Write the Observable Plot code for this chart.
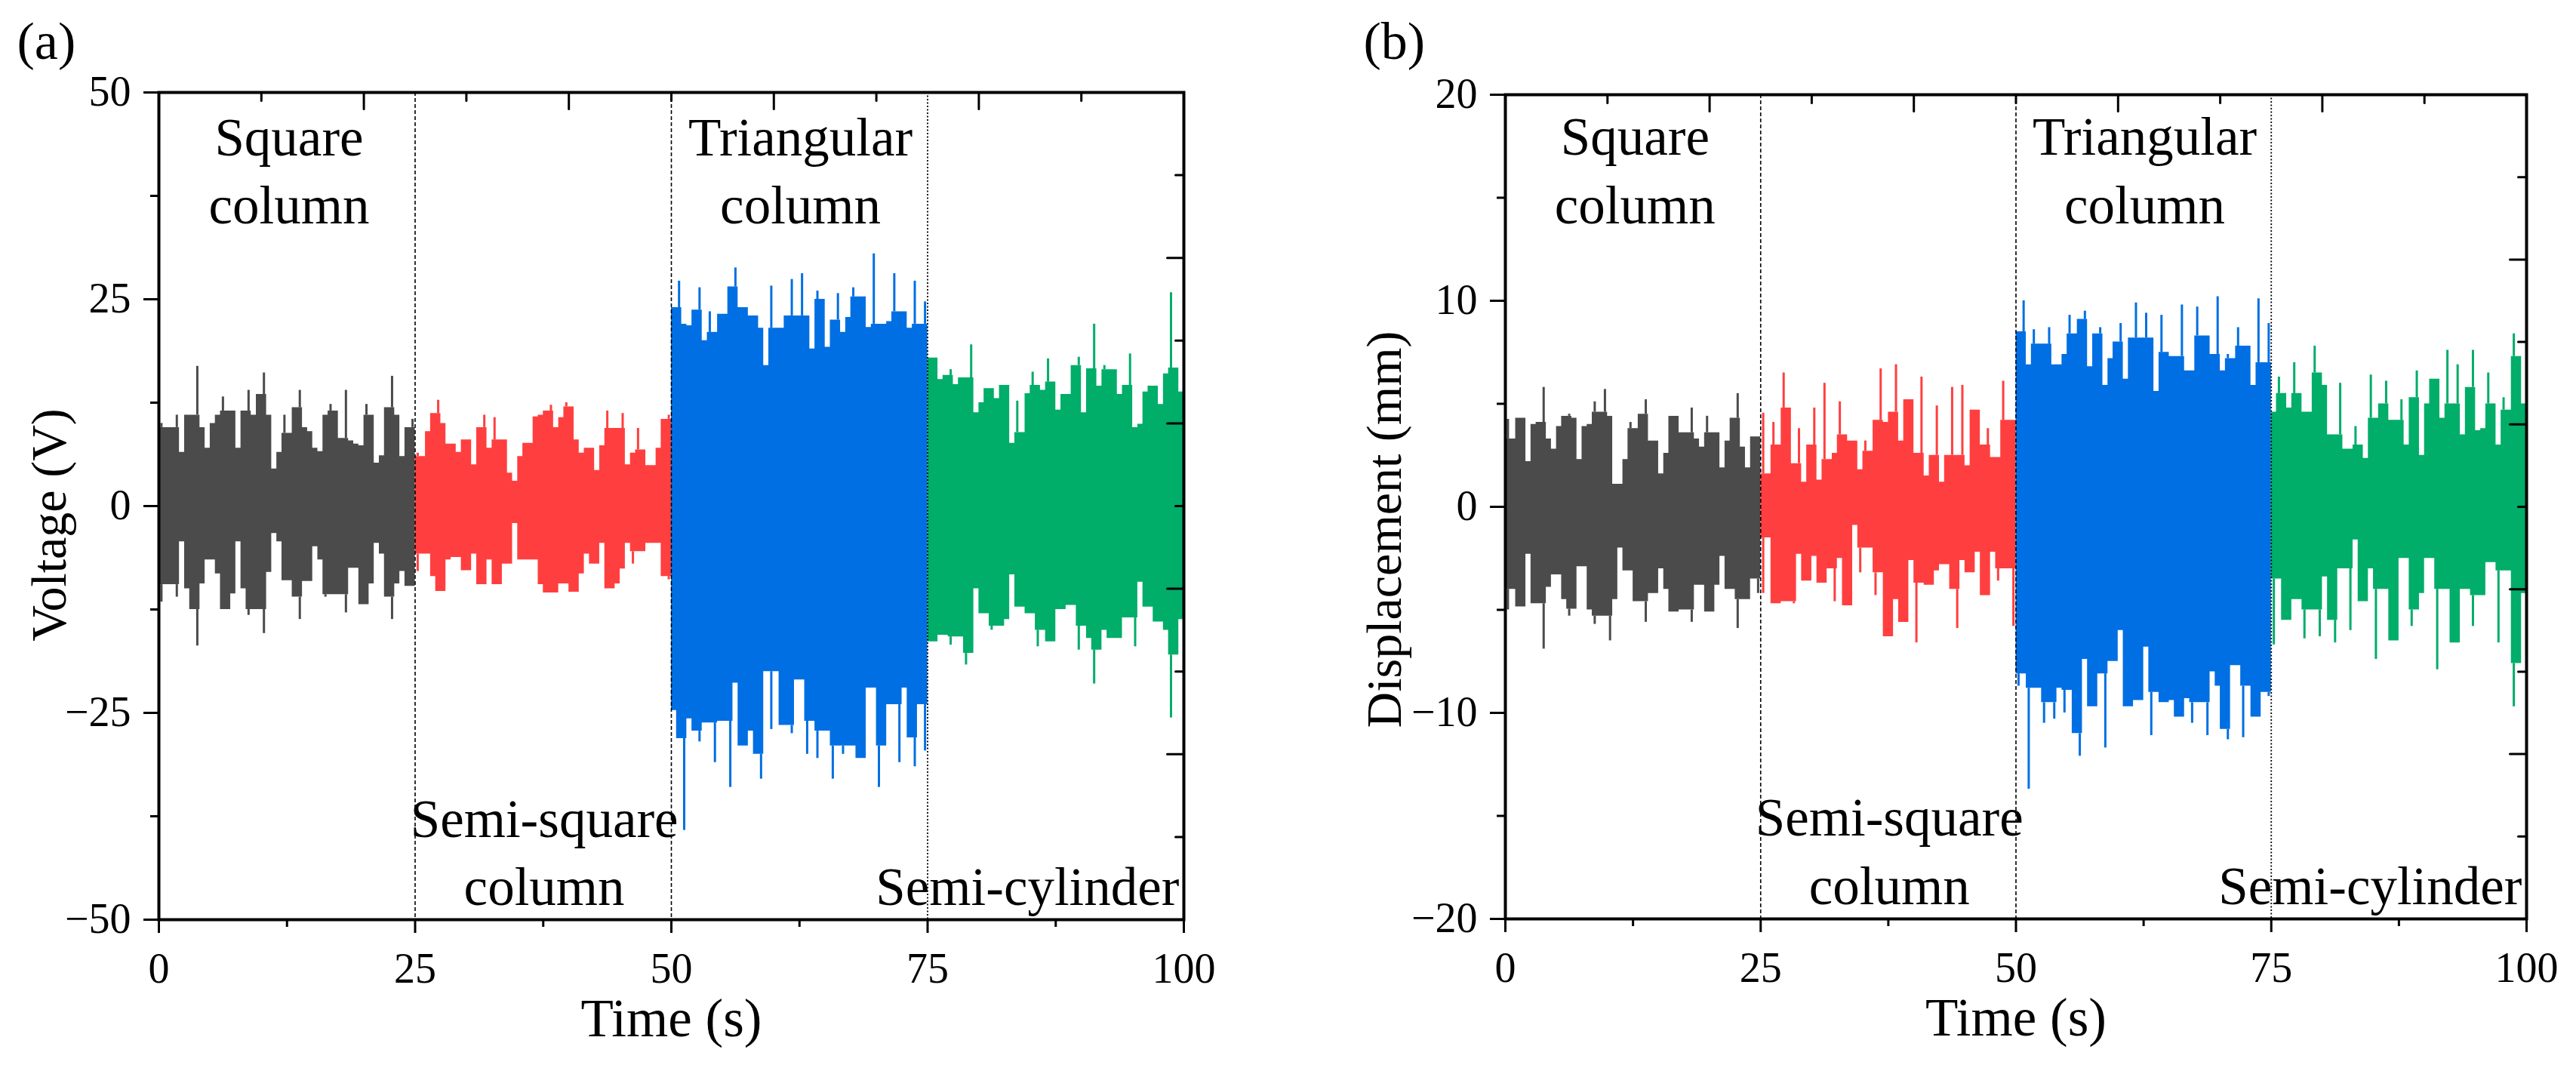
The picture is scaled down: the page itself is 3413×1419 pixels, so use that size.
<!DOCTYPE html>
<html><head><meta charset="utf-8">
<script src="https://cdn.jsdelivr.net/npm/d3@7"></script>
<script src="https://cdn.jsdelivr.net/npm/@observablehq/plot@0.6"></script>
<style>
html,body{margin:0;padding:0;background:#fff;}
#fig{display:flex;width:3413px;height:1419px;background:#fff;}
#pa{width:1706px;height:1419px;}
#pb{width:1707px;height:1419px;}
</style></head><body><div id="fig"><div id="pa"></div><div id="pb"></div></div>
<script>
// ---- Data: signal envelopes, one value per 0.5 s ----
const segmentNames = ["Square column", "Semi-square column", "Triangular column", "Semi-cylinder"];
const segmentStarts = [0, 25, 50, 75];
const segmentColors = ["#4b4b4b", "#ff3f3f", "#006fe3", "#00ad69"];
const sampleStep = 0.5;

// (a) Voltage (V)
const voltSquareHi = [10.0,9.5,9.5,11,6.5,11,11,16.9,9.5,7,10,11,13.2,11.5,11.5,7,11.5,14,11,13.5,16.1,11,4.5,6.5,11,8.8,11.9,14,9.5,9,7,6.6,11,12.3,11.5,8.2,14,7.9,7.5,7.3,12.3,11,5.2,6.1,11.9,15.7,11,6,9.5,10.5];
const voltSquareLo = [-11.6,-9.5,-9.5,-11,-4.3,-10,-12.5,-16.9,-9.4,-6.5,-6.5,-8.2,-12.5,-12.5,-10.6,-4.3,-10,-13.2,-12.5,-12.5,-15.4,-8,-3.3,-4.3,-9,-9,-11,-13.7,-9.1,-9.1,-4.9,-6.5,-11,-10.7,-10.7,-10.7,-12.9,-7.5,-7.5,-11.9,-11.9,-9.4,-4.5,-5.8,-11,-13.7,-9.4,-7.9,-9.7,-9.7];
const voltSemiSquareHi = [6.4,6,9,11.2,12.8,10,7.5,7.5,6.5,8,8,5.0,9.5,11,7,10.7,8,8,4,3,6,7.6,7.6,10.8,11,11.5,12.2,9.5,10.7,12.5,12,8,6.4,7,7,4.3,7.3,11.5,9.4,9.4,11.2,5,6.4,9.4,6.8,4.9,4.9,7,10.5,11];
const voltSemiSquareLo = [-7.9,-5.8,-5.8,-8.5,-10.3,-10.3,-6.5,-6.2,-6.2,-7.8,-7.8,-5.8,-9.5,-9.5,-6.5,-9.5,-9.5,-7,-7,-2.1,-6.5,-6.5,-6.5,-6.5,-9.5,-10.5,-10.5,-10.5,-9.4,-9.4,-10.4,-10.4,-8.2,-5.8,-7,-7,-4.5,-10,-10,-9.4,-7.6,-4.5,-7,-5.5,-5.5,-4.5,-4.5,-4.5,-8.5,-8.9];
const voltTriangularHi = [24,27.2,22,21.8,23.7,26.4,20,23.5,21,23.2,23.2,26.5,28.8,24,24,23,23,21.5,17,26.6,21.5,21.5,23,27.4,23,28.1,23,19,26,25,19.2,22.5,25.7,21,22.8,26.4,25.3,25.3,21.6,30.5,22,22,22.3,28.1,23.5,23.5,21.5,27.2,22,24.7];
const voltTriangularLo = [-24.7,-28.1,-39.2,-25.7,-27.2,-28.5,-26.2,-26.2,-31,-26,-26,-34,-21.4,-29,-29,-27.2,-30,-33,-20,-27,-20,-26.5,-26.5,-27.5,-21,-21,-30,-26,-30.5,-27.2,-27.2,-33,-29,-30,-29,-29,-30.5,-30.5,-22,-22,-34,-29,-24,-24,-31,-22,-28,-31.5,-24,-29.6];
const voltCylinderHi = [17.9,17.9,15.3,15.8,16.5,14.7,15.5,15.5,19.5,11.3,12.5,14.2,14.2,13,14.6,14.6,7.6,12.7,8.9,13.6,16.2,14.6,14,17.8,15,11.6,13.5,13.5,17,18,11.3,16.6,22,14.5,17,16.5,16.5,13.5,14.6,18.4,9.5,9.9,13.8,14.5,14.5,12.3,16,25.8,16.7,13.8];
const voltCylinderLo = [-16.4,-16.4,-15.6,-15.6,-16.8,-15.8,-15.8,-19.2,-17.8,-10,-13,-13,-15,-14.5,-14.5,-13.7,-8.3,-12.2,-12.2,-13,-13,-17,-15,-16.4,-16.4,-12.5,-12.5,-12,-12,-17.4,-14.5,-16,-21.5,-17.4,-15,-16,-16,-16,-13.5,-13.5,-17,-9.2,-12.2,-12.2,-14,-14,-15,-25.6,-18,-13.7];

// (b) Displacement (mm)
const dispSquareHi = [4.25,3.3,4.3,4.3,2.2,4.0,4.1,5.8,3.3,2.8,3.9,4.4,4.5,4.3,2.3,3.9,4,5.1,4.6,5.7,4.4,1.1,1.1,2.3,4.1,3.8,4.5,5.2,3.2,3.2,1.6,2.6,4.4,4.4,3.6,3.6,4.8,3.3,2.9,4.4,3.6,3.6,1.9,3.2,4.3,5.5,2.9,1.9,3.4,3.4];
const dispSquareLo = [-5.0,-4,-4.85,-4.85,-2.3,-4.7,-4.7,-6.9,-3.9,-3.3,-3.3,-4.5,-5.3,-4.96,-2.9,-2.9,-5,-5.7,-5.3,-5.3,-6.5,-4.5,-2,-3.1,-3.1,-4.6,-4.6,-5.6,-4.2,-4.2,-3,-4,-5.1,-5.1,-5,-5,-5.6,-3.8,-3.8,-5.1,-5.1,-3.8,-2.4,-4,-4,-5.9,-4.5,-4.5,-3.5,-4.2];
const dispSemiSquareHi = [4.55,1.6,4.1,3.0,6.5,4.8,2.1,3.8,1.2,3,4.8,1.3,6.0,2.3,2.6,5.1,3.5,3.2,3.2,1.8,3.2,2.7,4.2,6.7,4.1,4.6,6.9,3.2,5.2,5.2,2.6,6.3,1.5,2.5,4.9,1.2,2.5,5.8,2.5,5.9,2,4.7,4.7,3,3.8,2.4,2.4,6.1,4.2,4.2];
const dispSemiSquareLo = [-4.2,-1.5,-4.7,-4.7,-4.6,-4.6,-4.7,-2.3,-3.6,-3.6,-2.4,-3.7,-3.7,-3,-4.6,-2.5,-4.8,-4.8,-0.9,-3.2,-2,-2,-4.3,-3.2,-6.3,-6.3,-4.5,-5.6,-5.6,-2.6,-6.6,-3.7,-3.8,-3.8,-3.1,-2.8,-2.8,-4,-5.9,-2.6,-3.2,-3.2,-2.2,-4.3,-4.3,-2.2,-3.6,-3,-3,-5.8];
const dispTriangularHi = [8.5,10.0,6.9,8.6,7.9,7.9,8.7,6.9,6.9,7.4,9.3,8.4,9.1,9.5,6.8,8.4,8.7,5.9,7.2,8,8.9,6.2,8.2,9.9,8.2,9.4,8.2,5.6,9.3,7.5,7.3,7.3,9.8,6.6,6.6,9.7,8.3,8.3,7.4,10.2,6.6,7.4,7.2,8.7,7.8,7.8,5.9,10.1,7.0,8.9];
const dispTriangularLo = [-8.7,-8.1,-13.7,-8.8,-8.8,-10.5,-9.5,-10.3,-8.8,-10,-8.9,-11,-12.1,-7.4,-9.7,-9.7,-8.1,-11.7,-7.5,-7.5,-6,-9.7,-9.7,-9.4,-9.4,-6.8,-11.1,-9,-9.5,-9.5,-9.4,-10.2,-10.2,-9.3,-10.5,-9.5,-9.5,-11.1,-8,-8.7,-10.8,-11.3,-7.7,-7.7,-11.2,-8.7,-10.2,-10.2,-9,-9.2];
const dispCylinderHi = [4.6,6.3,5.5,4.8,7.0,5.5,4.6,4.6,7.8,6.5,5.9,3.5,3.5,6.0,2.8,2.8,3.9,3,2.35,6.4,4.3,5,6.1,4.2,4.2,5.2,3,5.3,6.6,2.5,5,6.2,6.2,4.3,7.6,5,6.9,3.5,5.8,7.6,3.7,3.8,6.5,5,3,5.3,4.7,8.4,7.3,5];
const dispCylinderLo = [-6.7,-3.5,-5.5,-5.5,-4.5,-4.5,-6.4,-5,-5,-6.3,-3.4,-5.5,-6.6,-3,-3,-6,-1.6,-4.6,-4.6,-3,-7.4,-4,-4,-6.5,-6.5,-2.5,-2.5,-5.8,-5,-4.2,-2.5,-2.5,-7.9,-4,-4,-6.6,-6.6,-4,-4,-5.8,-4.3,-4.3,-2.7,-2.7,-6.6,-3.1,-3.1,-9.7,-7.6,-4.2];

// ---- Axes / ticks ----
const xDomain = [0, 100];
const xMajorTicks = [0, 25, 50, 75, 100];
const xMinorTicks = [12.5, 37.5, 62.5, 87.5];
const topMajorTicks = [20, 40, 60, 80];
const topMinorTicks = [10, 30, 50, 70, 90];
const boundaryDashed = [25, 50];
const boundaryDotted = [75];

const voltDomain = [-50, 50];
const voltMajorTicks = [-50, -25, 0, 25, 50];
const voltMinorTicks = [-37.5, -12.5, 12.5, 37.5];
const voltRightMajor = [-30, -10, 10, 30];
const voltRightMinor = [-40, -20, 0, 20, 40];

const dispDomain = [-20, 20];
const dispMajorTicks = [-20, -10, 0, 10, 20];
const dispMinorTicks = [-15, -5, 5, 15];
const dispRightMajor = [-12, -4, 4, 12];
const dispRightMinor = [-16, -8, 0, 8, 16];

// ---- Build tables ----
// Each sample: a solid body (held for one sample interval) plus a thin peak
// stroke where the sample rises above both neighbours.
function segmentRows(start, hi, lo) {
  const n = hi.length;
  const rows = hi.map((h, i) => {
    const nh = Math.max(i > 0 ? hi[i - 1] : -Infinity, i < n - 1 ? hi[i + 1] : -Infinity);
    const nl = Math.min(i > 0 ? lo[i - 1] : Infinity, i < n - 1 ? lo[i + 1] : Infinity);
    return {t: start + i * sampleStep, tc: start + (i + 0.5) * sampleStep, hi: h, lo: lo[i],
            bodyHi: Math.min(h, nh), bodyLo: Math.max(lo[i], nl)};
  });
  const last = rows[n - 1];
  rows.push({...last, t: start + n * sampleStep});
  return rows;
}
const voltSegs = [[voltSquareHi, voltSquareLo], [voltSemiSquareHi, voltSemiSquareLo], [voltTriangularHi, voltTriangularLo], [voltCylinderHi, voltCylinderLo]]
  .map(([hi, lo], k) => ({name: segmentNames[k], color: segmentColors[k], rows: segmentRows(segmentStarts[k], hi, lo)}));
const dispSegs = [[dispSquareHi, dispSquareLo], [dispSemiSquareHi, dispSemiSquareLo], [dispTriangularHi, dispTriangularLo], [dispCylinderHi, dispCylinderLo]]
  .map(([hi, lo], k) => ({name: segmentNames[k], color: segmentColors[k], rows: segmentRows(segmentStarts[k], hi, lo)}));

const fmt = d => (d < 0 ? "\u2212" : "") + Math.abs(d);
const tickShape = {draw(context, l) { context.moveTo(0, 0); context.lineTo(0, -l); }};
const FONT = "'Liberation Serif', 'Times New Roman', serif";

function signalMarks(s) {
  const peaks = s.rows.slice(0, -1);
  return [
    Plot.areaY(s.rows, {x: "t", y1: "bodyLo", y2: "bodyHi", curve: "step-after", fill: s.color}),
    Plot.ruleX(peaks.filter(r => r.hi > r.bodyHi), {x: "tc", y1: "bodyHi", y2: "hi", stroke: s.color, strokeWidth: 3}),
    Plot.ruleX(peaks.filter(r => r.lo < r.bodyLo), {x: "tc", y1: "lo", y2: "bodyLo", stroke: s.color, strokeWidth: 3})
  ];
}

function panel(cfg) {
  const mt = cfg.top, mb = 1419 - cfg.bottom;
  return Plot.plot({
    width: cfg.width, height: 1419,
    marginLeft: cfg.ml, marginRight: cfg.mr, marginTop: mt, marginBottom: mb,
    x: {domain: xDomain, axis: null},
    y: {domain: cfg.yDomain, axis: null},
    style: {fontFamily: FONT, color: "black", background: "white", overflow: "visible"},
    marks: [
      ...cfg.segs.flatMap(signalMarks),
      Plot.ruleX(boundaryDashed, {stroke: "black", strokeWidth: 1.6, strokeDasharray: "5,3"}),
      Plot.ruleX(boundaryDotted, {stroke: "black", strokeWidth: 1.8, strokeDasharray: "2,2.5"}),
      Plot.axisY({ticks: cfg.yMajor, tickSize: 20, tickPadding: 17, fontSize: 56, strokeWidth: 3, label: null, tickFormat: fmt}),
      Plot.axisY({ticks: cfg.yMinor, tickSize: 11, strokeWidth: 3, label: null, tickFormat: () => ""}),
      Plot.axisX({ticks: xMajorTicks, tickSize: 18, tickPadding: 26, fontSize: 56, strokeWidth: 3, label: null, tickFormat: fmt}),
      Plot.axisX({ticks: xMinorTicks, tickSize: 10, strokeWidth: 3, label: null, tickFormat: () => ""}),
      Plot.vector(topMajorTicks, {x: d => d, frameAnchor: "top", rotate: 180, length: 22, anchor: "start", shape: tickShape, stroke: "black", strokeWidth: 3}),
      Plot.vector(topMinorTicks, {x: d => d, frameAnchor: "top", rotate: 180, length: 11, anchor: "start", shape: tickShape, stroke: "black", strokeWidth: 3}),
      Plot.vector(cfg.rMajor, {y: d => d, frameAnchor: "right", rotate: -90, length: 22, anchor: "start", shape: tickShape, stroke: "black", strokeWidth: 3}),
      Plot.vector(cfg.rMinor, {y: d => d, frameAnchor: "right", rotate: -90, length: 11, anchor: "start", shape: tickShape, stroke: "black", strokeWidth: 3}),
      Plot.frame({stroke: "black", strokeWidth: 4}),
      Plot.text(cfg.midLabels, {x: "x", y: "y", text: "text", textAnchor: "middle", lineAnchor: "bottom", fontSize: 71, lineHeight: 1.27, fill: "black"}),
      Plot.text(cfg.endLabels, {x: "x", y: "y", text: "text", textAnchor: "end", lineAnchor: "bottom", dx: -6, fontSize: 71, fill: "black"}),
      Plot.text([cfg.yTitle], {text: d => d, frameAnchor: "left", dx: cfg.yTitleDx, dy: cfg.yTitleDy, rotate: -90, textAnchor: "middle", lineAnchor: "middle", fontSize: 66, fill: "black"}),
      Plot.text(["Time (s)"], {text: d => d, frameAnchor: "bottom", dy: 154, textAnchor: "middle", lineAnchor: "bottom", fontSize: 71, fill: "black"}),
      Plot.text([cfg.tag], {text: d => d, frameAnchor: "top-left", dx: -188, dy: 77 - mt, textAnchor: "start", lineAnchor: "bottom", fontSize: 70, fill: "black"})
    ]
  });
}

const topA = 34.2, botA = -48.2, topB = 13.77, botB = -19.27;
document.getElementById("pa").append(panel({
  width: 1706, ml: 210, mr: 138, top: 122, bottom: 1218,
  yDomain: voltDomain, yMajor: voltMajorTicks, yMinor: voltMinorTicks, rMajor: voltRightMajor, rMinor: voltRightMinor,
  segs: voltSegs, yTitle: "Voltage (V)", yTitleDx: -145, yTitleDy: 25, tag: "(a)",
  midLabels: [{x: 12.7, y: topA, text: "Square\ncolumn"}, {x: 62.6, y: topA, text: "Triangular\ncolumn"}, {x: 37.6, y: botA, text: "Semi-square\ncolumn"}],
  endLabels: [{x: 100, y: botA, text: "Semi-cylinder"}]
}));
document.getElementById("pb").append(panel({
  width: 1707, ml: 288, mr: 66, top: 125, bottom: 1217,
  yDomain: dispDomain, yMajor: dispMajorTicks, yMinor: dispMinorTicks, rMajor: dispRightMajor, rMinor: dispRightMinor,
  segs: dispSegs, yTitle: "Displacement (mm)", yTitleDx: -160, yTitleDy: 30, tag: "(b)",
  midLabels: [{x: 12.7, y: topB, text: "Square\ncolumn"}, {x: 62.6, y: topB, text: "Triangular\ncolumn"}, {x: 37.6, y: botB, text: "Semi-square\ncolumn"}],
  endLabels: [{x: 100, y: botB, text: "Semi-cylinder"}]
}));
</script></body></html>
